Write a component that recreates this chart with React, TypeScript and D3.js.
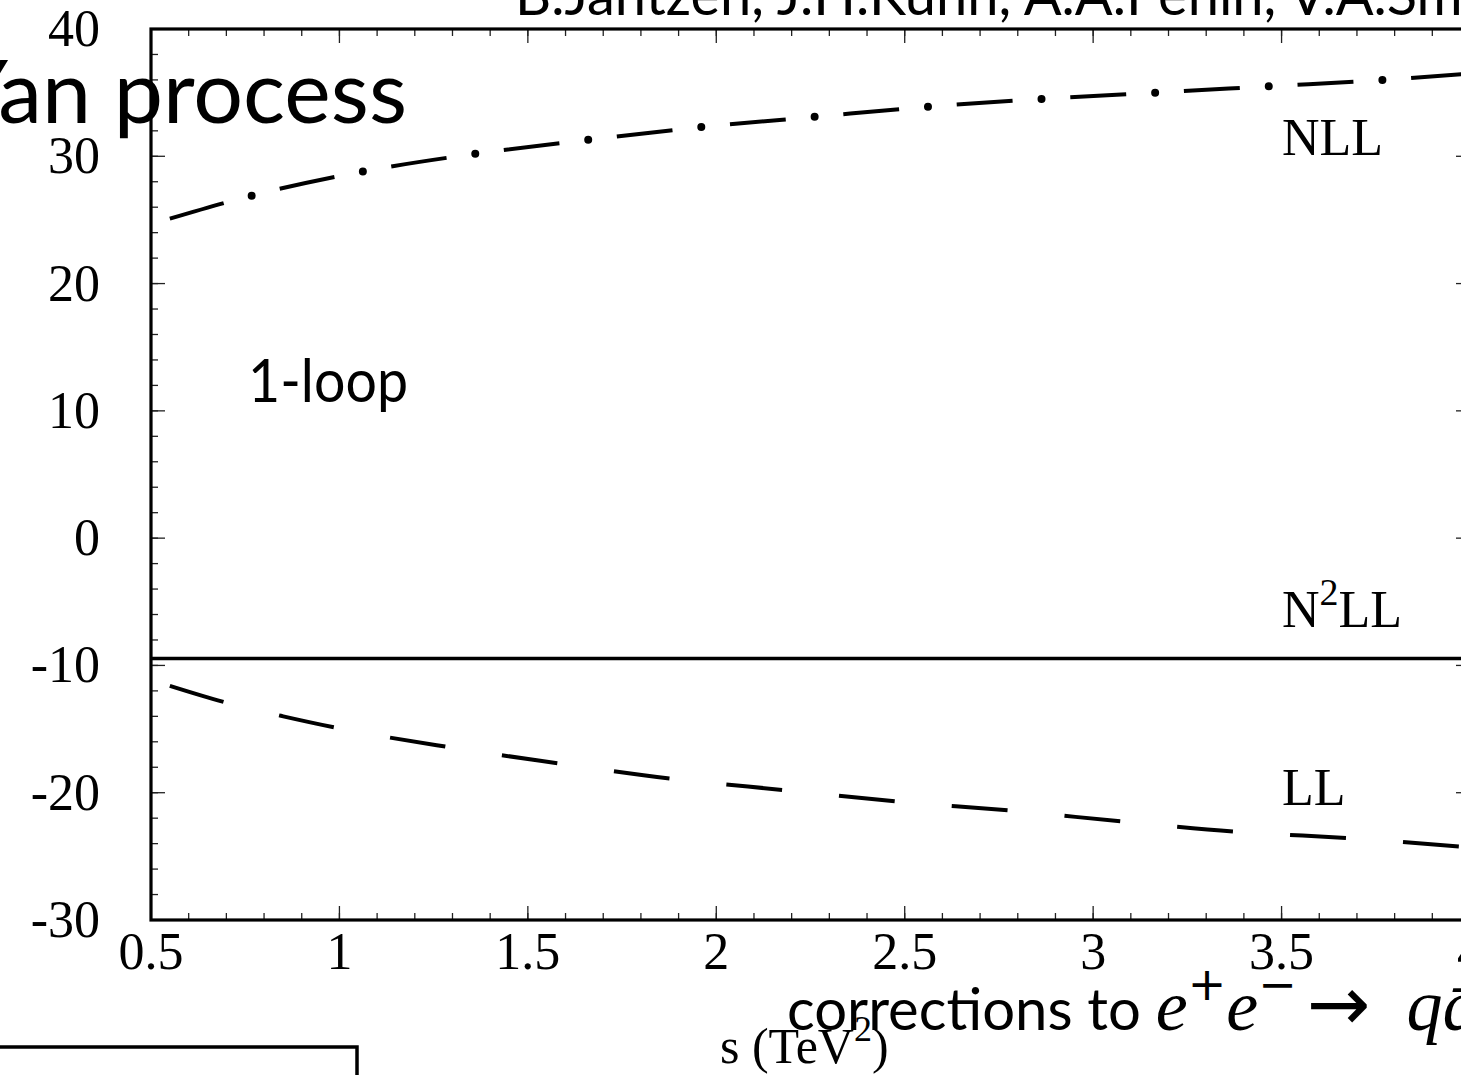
import React from "react";
import * as d3 from "d3";

// ---- data ----
const nllS = [0.55, 0.766, 1.061, 1.361, 1.663, 1.963, 2.262, 2.565, 2.864, 3.167, 3.469, 3.771, 4.0];
const nllV = [25.1, 26.9, 28.8, 30.2, 31.3, 32.3, 33.1, 33.9, 34.5, 35.0, 35.5, 36.0, 36.5];
const llS = [0.55, 0.697, 0.851, 0.992, 1.286, 1.583, 1.883, 2.182, 2.482, 2.78, 3.09, 3.395, 3.697, 4.0];
const llV = [-11.6, -12.9, -14.0, -14.9, -16.4, -17.7, -18.9, -19.8, -20.7, -21.4, -22.3, -23.1, -23.6, -24.3];
const n2llS = [0.5, 4.0];
const n2llV = [-9.45, -9.45];
const xMajor = [0.5, 1, 1.5, 2, 2.5, 3, 3.5, 4];
const xMajorLabels = ["0.5", "1", "1.5", "2", "2.5", "3", "3.5", "4"];
const yMajor = [-30, -20, -10, 0, 10, 20, 30, 40];
const yMajorLabels = ["-30", "-20", "-10", "0", "10", "20", "30", "40"];

const W = 1461, H = 1075;
const L = 151, R = 1470, T = 29, B = 920;

export default function App() {
  const x = d3.scaleLinear().domain([0.5, 4]).range([L, R]);
  const y = d3.scaleLinear().domain([-30, 40]).range([B, T]);
  const mk = (s: number[], v: number[]) =>
    d3.line<[number, number]>().x(d => x(d[0])).y(d => y(d[1])).curve(d3.curveMonotoneX)(
      s.map((t, i) => [t, v[i]] as [number, number])
    ) || "";
  const nllPath = mk(nllS, nllV);
  const llPath = mk(llS, llV);
  const n2Path = mk(n2llS, n2llV);
  const xMinor = d3.range(0.5, 4.001, 0.1);
  const yMinor = d3.range(-30, 40.001, 2);
  const serif = "'Liberation Serif', 'Times New Roman', serif";
  const sans = "Lato, 'Open Sans', sans-serif";
  const sym = "'DejaVu Sans', sans-serif";
  const tk = { stroke: "#222", strokeWidth: 1.3 };
  return (
    <svg width={W} height={H} style={{ position: "absolute", left: 0, top: 0, background: "#fff" }}>
      <rect x={0} y={0} width={W} height={H} fill="#fff" />
      {/* top authors */}
      <text x={515} y={15} fontFamily={sans} fontSize={56} fill="#000">B.Jantzen, J.H.Kühn, A.A.Penin, V.A.Smirnov</text>
      {/* ticks */}
      {xMinor.map((v, i) => (
        <g key={"xm" + i}>
          <line x1={x(v)} x2={x(v)} y1={B} y2={B - 7} {...tk} />
          <line x1={x(v)} x2={x(v)} y1={T} y2={T + 7} {...tk} />
        </g>
      ))}
      {xMajor.map((v, i) => (
        <g key={"xM" + i}>
          <line x1={x(v)} x2={x(v)} y1={B} y2={B - 14} {...tk} />
          <line x1={x(v)} x2={x(v)} y1={T} y2={T + 14} {...tk} />
          <text x={x(v)} y={B + 49} textAnchor="middle" fontFamily={serif} fontSize={52}>{xMajorLabels[i]}</text>
        </g>
      ))}
      {yMinor.map((v, i) => (
        <g key={"ym" + i}>
          <line x1={L} x2={L + 7} y1={y(v)} y2={y(v)} {...tk} />
          <line x1={R} x2={R - 7} y1={y(v)} y2={y(v)} {...tk} />
        </g>
      ))}
      {yMajor.map((v, i) => (
        <g key={"yM" + i}>
          <line x1={L} x2={L + 14} y1={y(v)} y2={y(v)} {...tk} />
          <line x1={R} x2={R - 14} y1={y(v)} y2={y(v)} {...tk} />
          <text x={100} y={y(v) + 17} textAnchor="end" fontFamily={serif} fontSize={52}>{yMajorLabels[i]}</text>
        </g>
      ))}
      {/* frame */}
      <rect x={L} y={T} width={R - L} height={B - T} fill="none" stroke="#000" strokeWidth={3.2} />
      {/* curves */}
      <path d={n2Path} fill="none" stroke="#000" strokeWidth={3.6} />
      <path d={llPath} fill="none" stroke="#000" strokeWidth={4} strokeDasharray="56 57.2" />
      <path d={nllPath} fill="none" stroke="#000" strokeWidth={4} strokeDasharray="56 57.8" />
      <path d={nllPath} fill="none" stroke="#000" strokeWidth={8} strokeLinecap="round" strokeDasharray="0 113.8" strokeDashoffset={28.8} />
      {/* curve labels */}
      <text x={1282} y={155} fontFamily={serif} fontSize={52}>NLL</text>
      <text x={1282} y={627} fontFamily={serif} fontSize={52}>N<tspan fontSize={38} dy={-22}>2</tspan><tspan dy={22}>LL</tspan></text>
      <text x={1282} y={805} fontFamily={serif} fontSize={52}>LL</text>
      {/* overlay texts */}
      <text x={407} y={123} textAnchor="end" fontFamily={sans} fontSize={88}>Drell-Yan process</text>
      <text x={248} y={402} fontFamily={sans} fontSize={60} textLength={160} lengthAdjust="spacingAndGlyphs">1-loop</text>
      <text x={720} y={1063} fontFamily={serif} fontSize={50}>s (TeV<tspan fontSize={36} dy={-22}>2</tspan><tspan dy={22}>)</tspan></text>
      <text x={787} y={1030} fontFamily={sans} fontSize={58}>corrections to <tspan fontFamily={serif} fontStyle="italic" fontSize={72}>e</tspan><tspan fontFamily={sym} fontSize={46} dy={-30}>+</tspan><tspan fontFamily={serif} fontStyle="italic" fontSize={72} dy={30}>e</tspan><tspan fontFamily={sym} fontSize={46} dy={-30}>−</tspan><tspan fontFamily={sym} fontSize={76} dy={30} dx={10}>→</tspan><tspan fontFamily={serif} fontStyle="italic" fontSize={72} dx={36}>q</tspan><tspan fontFamily={serif} fontStyle="italic" fontSize={72}>q̄</tspan></text>
      {/* bottom-left box */}
      <rect x={-10} y={1047} width={367} height={100} fill="none" stroke="#000" strokeWidth={3.5} />
    </svg>
  );
}
